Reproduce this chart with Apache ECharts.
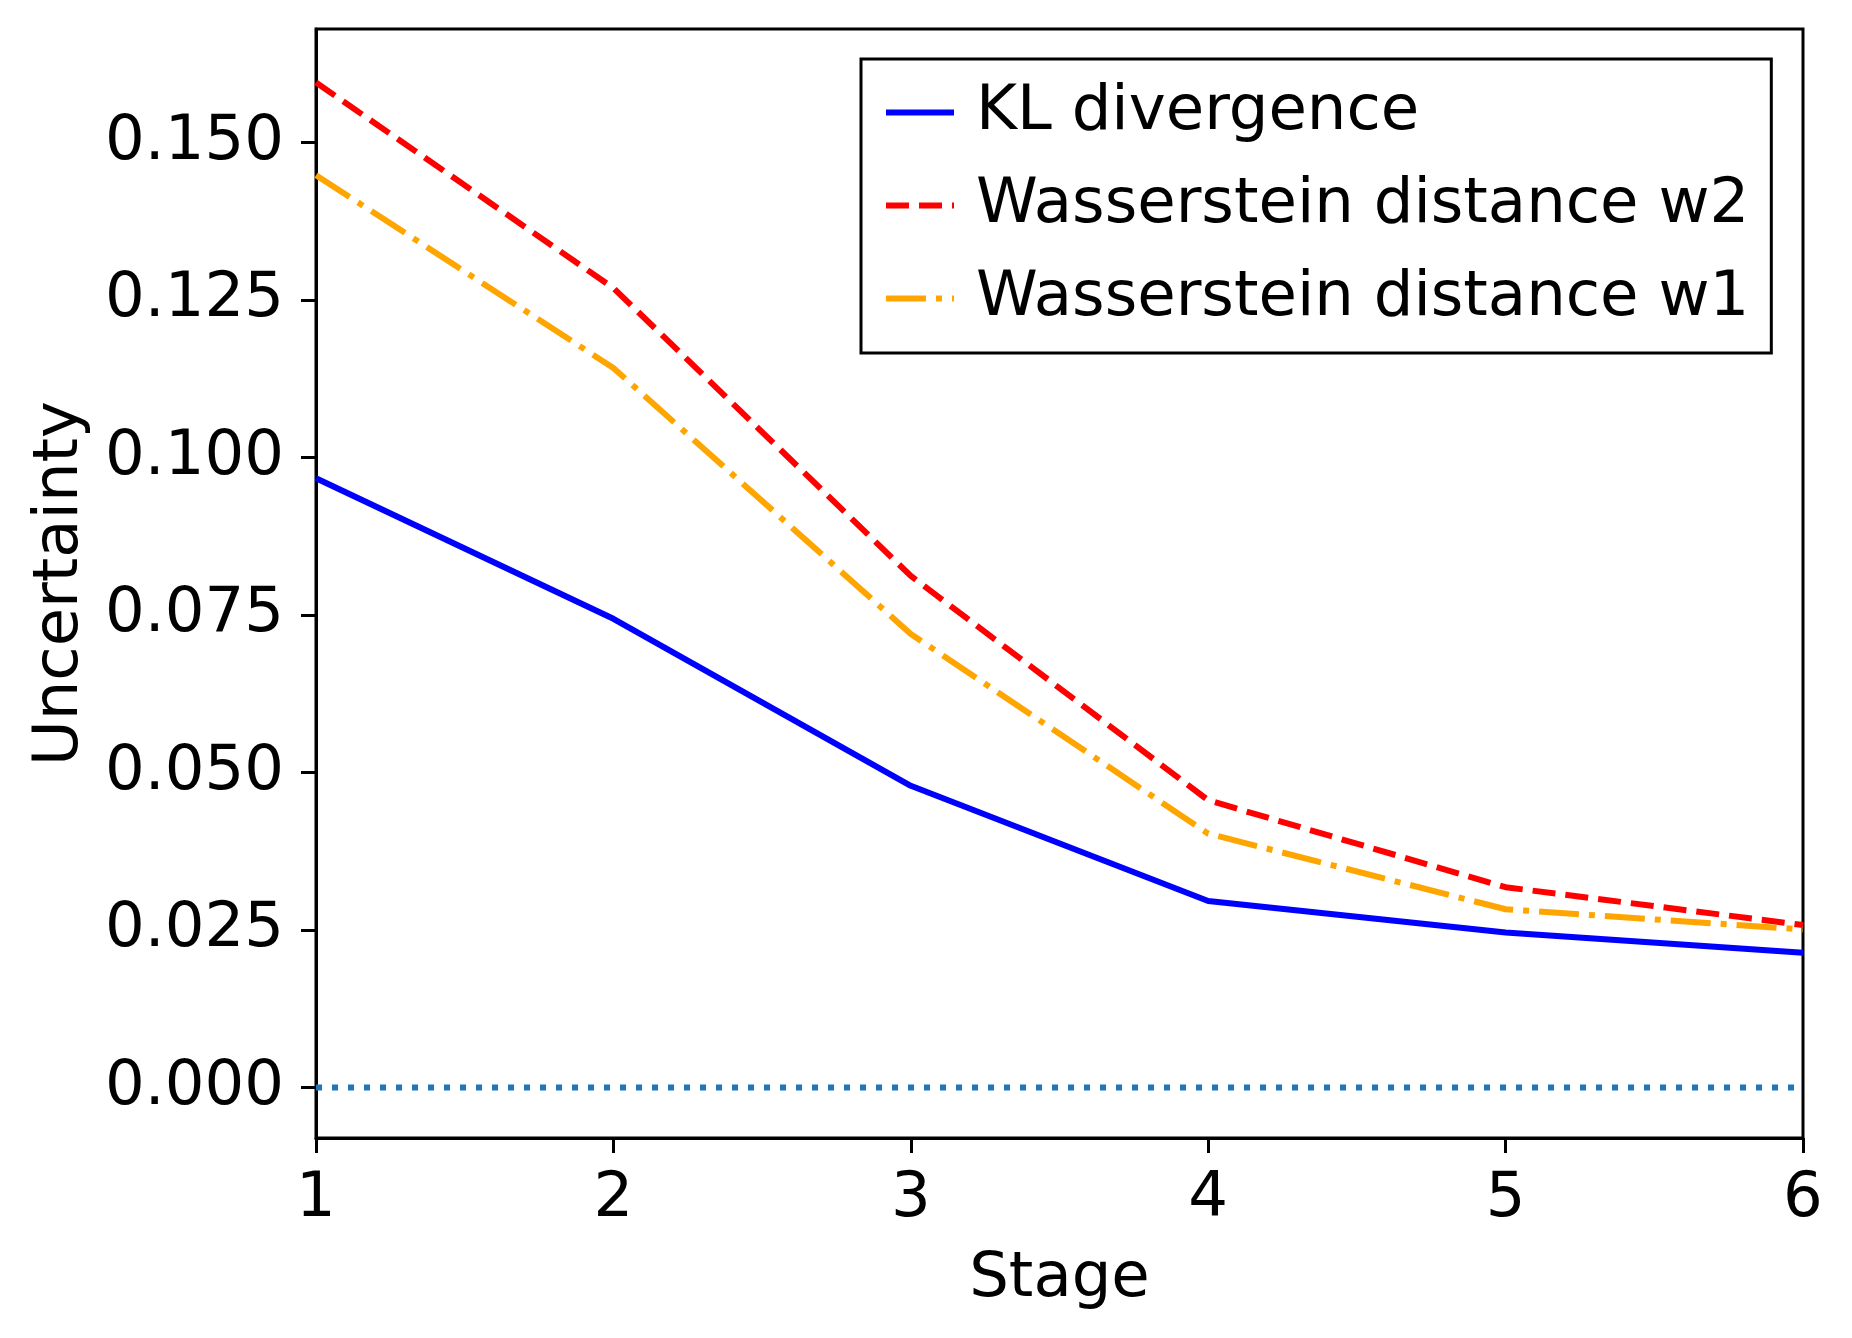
<!DOCTYPE html>
<html>
<head>
<meta charset="utf-8">
<script src="https://cdn.jsdelivr.net/npm/echarts@6/dist/echarts.min.js"></script>
<style>html,body{margin:0;padding:0;background:#fff}#c{width:1852px;height:1338px}</style>
</head>
<body>
<div id="c"></div>
<script>
const stages = [1, 2, 3, 4, 5, 6];
const klDivergence = [0.0967, 0.0744, 0.0479, 0.0296, 0.0246, 0.0214];
const wassersteinW2 = [0.1595, 0.1269, 0.0812, 0.0456, 0.0318, 0.0258];
const wassersteinW1 = [0.1448, 0.1142, 0.0720, 0.0403, 0.0283, 0.0251];
const zeroLine = [0, 0, 0, 0, 0, 0];
const yTicks = [0, 0.025, 0.05, 0.075, 0.1, 0.125, 0.15];
const xTicks = [1, 2, 3, 4, 5, 6];

const pair = (vals) => stages.map((s, i) => [s, vals[i]]);
const FONT = 'DejaVu Sans';
const FS = 62.5;
const DASH_W2 = [23, 10];
const DASH_W1 = [40, 10, 6, 10];
const chart = echarts.init(document.getElementById('c'), null, {renderer: 'canvas'});
chart.setOption({
  backgroundColor: '#fff',
  animation: false,
  textStyle: {fontFamily: FONT, color: '#000'},
  grid: {left: 316, right: 49, top: 29, bottom: 200, show: true, borderColor: '#000', borderWidth: 3, backgroundColor: 'transparent'},
  legend: {
    data: [
      {name: 'KL divergence', itemStyle: {opacity: 0}, lineStyle: {width: 6, type: 'solid', color: '#0000ff'}},
      {name: 'Wasserstein distance w2', itemStyle: {opacity: 0}, lineStyle: {width: 6, type: DASH_W2, color: '#ff0000'}},
      {name: 'Wasserstein distance w1', itemStyle: {opacity: 0}, lineStyle: {width: 6, type: DASH_W1, color: '#ffa500'}}
    ],
    orient: 'vertical', left: 861, top: 59,
    padding: [22, 22, 23, 22],
    itemGap: 30, itemWidth: 68, itemHeight: 24,
    borderColor: '#000', borderWidth: 3, borderRadius: 0,
    backgroundColor: '#fff',
    textStyle: {fontFamily: FONT, fontSize: FS, color: '#000', lineHeight: 62, padding: [0, 0, 0, 17]}
  },
  xAxis: {
    type: 'value', min: 1, max: 6, interval: 1,
    name: 'Stage', nameLocation: 'middle', nameGap: 110,
    nameTextStyle: {fontFamily: FONT, fontSize: FS, color: '#000'},
    axisLine: {show: true, onZero: false, lineStyle: {color: '#000', width: 3}},
    axisTick: {show: true, inside: false, length: 15, lineStyle: {color: '#000', width: 3}, customValues: xTicks},
    axisLabel: {show: true, margin: 30, fontFamily: FONT, fontSize: FS, color: '#000', customValues: xTicks},
    splitLine: {show: false}
  },
  yAxis: {
    type: 'value', min: -0.008, max: 0.168,
    name: 'Uncertainty', nameLocation: 'middle', nameRotate: 90, nameGap: 224,
    nameTextStyle: {fontFamily: FONT, fontSize: FS, color: '#000'},
    axisLine: {show: true, onZero: false, lineStyle: {color: '#000', width: 3}},
    axisTick: {show: true, inside: false, length: 15, lineStyle: {color: '#000', width: 3}, customValues: yTicks},
    axisLabel: {show: true, margin: 32, fontFamily: FONT, fontSize: FS, color: '#000', customValues: yTicks,
      formatter: (v) => Number(v).toFixed(3)},
    splitLine: {show: false}
  },
  series: [
    {name: 'KL divergence', type: 'line', data: pair(klDivergence), symbol: 'none', showSymbol: false, color: '#0000ff',
     lineStyle: {color: '#0000ff', width: 6, type: 'solid'}},
    {name: 'Wasserstein distance w2', type: 'line', data: pair(wassersteinW2), symbol: 'none', showSymbol: false, color: '#ff0000',
     lineStyle: {color: '#ff0000', width: 6, type: DASH_W2}},
    {name: 'Wasserstein distance w1', type: 'line', data: pair(wassersteinW1), symbol: 'none', showSymbol: false, color: '#ffa500',
     lineStyle: {color: '#ffa500', width: 6, type: DASH_W1}},
    {name: 'zero', type: 'line', data: pair(zeroLine), symbol: 'none', showSymbol: false, color: '#1f77b4',
     lineStyle: {color: '#1f77b4', width: 6, type: [6, 10]}, z: 1}
  ]
});
</script>
</body>
</html>
